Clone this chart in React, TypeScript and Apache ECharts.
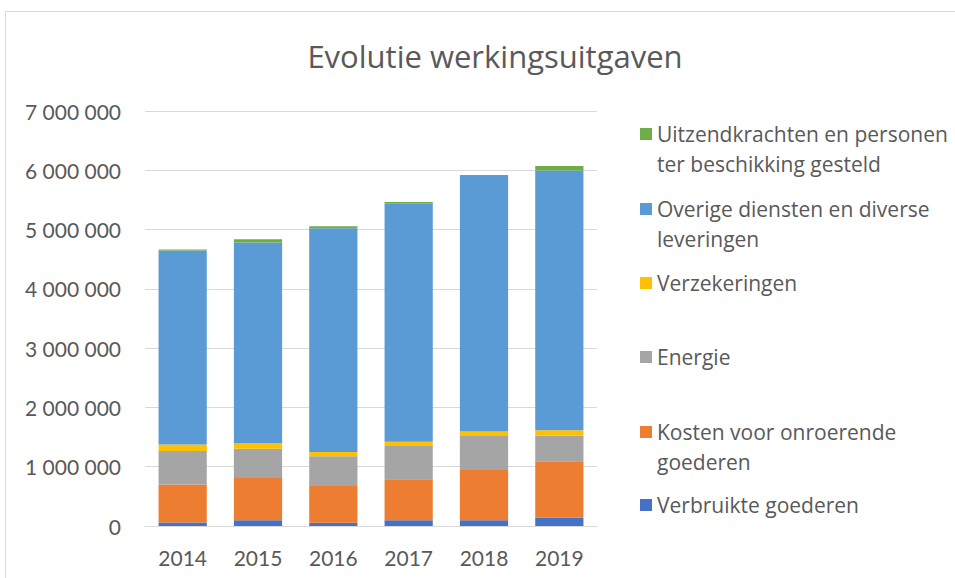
import React, { useEffect, useRef } from "react";
import * as echarts from "echarts";

const years = ["2014", "2015", "2016", "2017", "2018", "2019"];
const verbruikteGoederen = [58000, 95000, 56000, 95000, 95000, 140000];
const kostenOnroerend = [640000, 715000, 620000, 693000, 849000, 951000];
const energie = [567000, 495000, 500000, 561000, 574000, 433000];
const verzekeringen = [108000, 95000, 73000, 74000, 74000, 90000];
const overigeDiensten = [3272000, 3380000, 3772000, 4019000, 4310000, 4384000];
const uitzendkrachten = [20000, 55000, 34000, 22000, 17000, 73000];

const seriesNames = [
  "Verbruikte goederen",
  "Kosten voor onroerende\ngoederen",
  "Energie",
  "Verzekeringen",
  "Overige diensten en diverse\nleveringen",
  "Uitzendkrachten en personen\nter beschikking gesteld",
];
const seriesData = [
  verbruikteGoederen,
  kostenOnroerend,
  energie,
  verzekeringen,
  overigeDiensten,
  uitzendkrachten,
];
const colors = ["#4472C4", "#ED7D31", "#A5A5A5", "#FFC000", "#5B9BD5", "#70AD47"];
// icon centre y for each legend item (same order as seriesNames)
const legendCenters = [505, 432, 357, 283, 209, 134];

const FONT = "Lato";
const LFONT = "Open Sans";
const TXT = "#595959";

function fmt(v: number) {
  return String(Math.round(v)).replace(/\B(?=(\d{3})+(?!\d))/g, " ");
}

export default function App() {
  const ref = useRef<HTMLDivElement>(null);
  useEffect(() => {
    document.body.style.margin = "0";
    const chart = echarts.init(ref.current!, null, { renderer: "svg" });
    const legends = seriesNames.map((name, i) => {
      const twoLine = name.includes("\n");
      return {
        data: [name],
        left: 640,
        top: legendCenters[i] - (twoLine ? 45 : 15),
        padding: 0,
        itemWidth: 12,
        itemHeight: 12,
        icon: "rect",
        selectedMode: false,
        formatter: (n: string) => (n.includes("\n") ? "\n" + n : n),
        textStyle: {
          fontFamily: LFONT,
          fontSize: 21,
          color: TXT,
          lineHeight: 30,
        },
      };
    });
    chart.setOption({
      animation: false,
      title: {
        text: "Evolutie werkingsuitgaven",
        left: 490,
        textAlign: "center",
        top: 35,
        textStyle: { fontFamily: LFONT, fontSize: 31, fontWeight: "normal", color: TXT },
      },
      graphic: [
        {
          type: "rect",
          shape: { x: 5.5, y: 11.5, width: 1000, height: 700 },
          style: { fill: "none", stroke: "#D9D9D9", lineWidth: 1 },
          silent: true,
        },
      ],
      legend: legends,
      grid: { left: 145, right: 358, top: 111, bottom: 52 },
      xAxis: {
        type: "category",
        data: years,
        axisTick: { show: false },
        axisLine: { lineStyle: { color: "#D9D9D9" } },
        axisLabel: { fontFamily: FONT, fontSize: 21, color: TXT, margin: 21 },
      },
      yAxis: {
        type: "value",
        min: 0,
        max: 7000000,
        interval: 1000000,
        axisLabel: {
          fontFamily: FONT,
          fontSize: 21,
          color: TXT,
          margin: 24,
          formatter: (v: number) => fmt(v),
        },
        splitLine: { lineStyle: { color: "#D9D9D9" } },
      },
      series: seriesData.map((d, i) => ({
        name: seriesNames[i],
        type: "bar",
        stack: "total",
        data: d,
        barWidth: "64%",
        itemStyle: { color: colors[i] },
      })),
    });
    return () => chart.dispose();
  }, []);
  return <div ref={ref} style={{ width: 955, height: 578 }} />;
}
